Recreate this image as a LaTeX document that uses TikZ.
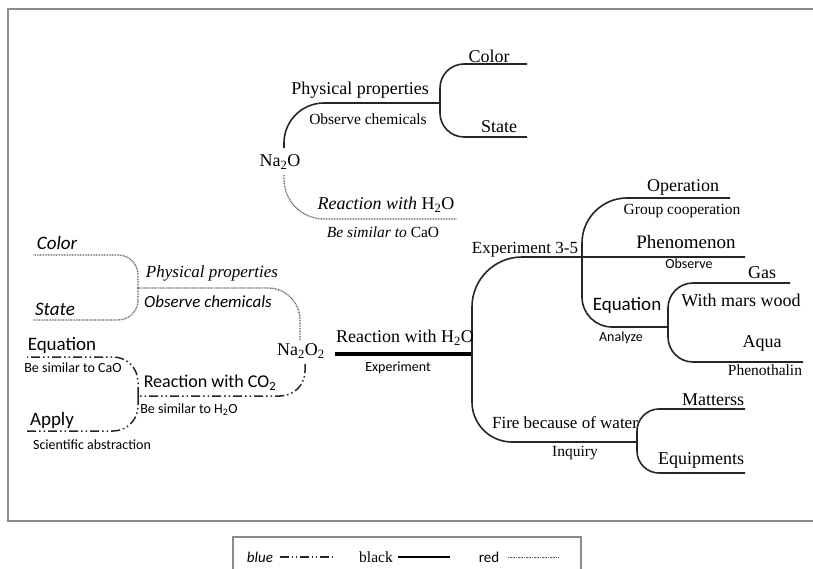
\documentclass[tikz,border=0pt]{standalone}
\usepackage{fontspec}
\setmainfont{Liberation Serif}
\setsansfont{Carlito}
\begin{document}
\begin{tikzpicture}[x=1pt,y=-1pt,
  ser/.style={font=\fontsize{18}{20}\selectfont, inner sep=0pt},
  sers/.style={font=\fontsize{15.5}{17}\selectfont, inner sep=0pt},
  san/.style={font=\sffamily\fontsize{19}{21}\selectfont, inner sep=0pt},
  sans/.style={font=\sffamily\fontsize{14}{16}\selectfont, inner sep=0pt},
  blk/.style={line width=1.6pt, draw=black!85},
  thk/.style={line width=3.2pt, draw=black},
  dotl/.style={line width=1.3pt, draw=black!65, dash pattern=on 0.8pt off 0.8pt},
  blu/.style={line width=1.5pt, draw=black!85, dash pattern=on 9pt off 3pt on 1.5pt off 3pt on 1.5pt off 3pt},
  frame/.style={draw=black!45, line width=2pt}]
\useasboundingbox (0,0) rectangle (813,569);
\fill[white] (0,0) rectangle (813,569);
% frame (open on the right, as it runs past the picture edge)
\coordinate (fTR) at (813,9);
\coordinate (fTL) at (8,9);
\coordinate (fBL) at (8,521);
\coordinate (fBR) at (813,521);
\draw[frame] (fTR) -- (fTL) -- (fBL) -- (fBR);
% legend box (open at the bottom)
\coordinate (lgBL) at (233,569);
\coordinate (lgTL) at (233,537);
\coordinate (lgTR) at (581,537);
\coordinate (lgBR) at (581,569);
\draw[frame] (lgBL) -- (lgTL) -- (lgTR) -- (lgBR);

% ---------------- top tree (Na2O) ----------------
\node[ser] (na2o) at (280,162) {Na\textsubscript{2}O};
\coordinate (na2oT) at (284,148);
\coordinate (na2oB) at (284,175);
\coordinate (j1) at (440,103);
\coordinate (colE) at (527,64);
\coordinate (staE) at (527,137);
\coordinate (rwE) at (457,219);
\draw[blk, rounded corners=40pt] (na2oT) |- (j1);
\draw[blk, rounded corners=24pt] (j1) |- (colE);
\draw[blk, rounded corners=24pt] (j1) |- (staE);
\draw[dotl, rounded corners=40pt] (na2oB) |- (rwE);
\node[ser] (pp1) at (360,90) {Physical properties};
\node[sers] (oc1) at (368,119) {Observe chemicals};
\node[ser] (col1) at (489,56) {Color};
\node[ser] (sta1) at (499,127) {State};
\node[ser] (rw1) at (386,205) {\textit{Reaction with} H\textsubscript{2}O};
\node[sers] (bs1) at (383,232) {\textit{Be similar to} CaO};

% ---------------- Na2O2 ----------------
\node[ser] (na2o2) at (301,351) {Na\textsubscript{2}O\textsubscript{2}};

% left dotted tree
\coordinate (n2T) at (300,340);
\coordinate (jP) at (138,288);
\coordinate (lcolE) at (33,255);
\coordinate (lstaE) at (33,320);
\draw[dotl, rounded corners=32pt] (n2T) |- (jP);
\draw[dotl, rounded corners=20pt] (jP) |- (lcolE);
\draw[dotl, rounded corners=20pt] (jP) |- (lstaE);
\node[san, font=\sffamily\itshape\fontsize{19}{21}\selectfont] (lcol) at (57,243) {Color};
\node[san, font=\sffamily\itshape\fontsize{19}{21}\selectfont] (lsta) at (55,309) {State};
\node[ser, font=\itshape\fontsize{17}{19}\selectfont] (pp2) at (212,273) {Physical properties};
\node[san, font=\sffamily\itshape\fontsize{17}{19}\selectfont] (oc2) at (208,302) {Observe chemicals};

% left blue tree
\coordinate (n2B) at (305,364);
\coordinate (jC) at (138,396);
\coordinate (eqE) at (27,357);
\coordinate (apE) at (27,431);
\draw[blu, rounded corners=25pt] (n2B) |- (jC);
\draw[blu, rounded corners=25pt] (jC) |- (eqE);
\draw[blu, rounded corners=25pt] (jC) |- (apE);
\node[san] (leq) at (62,345) {Equation};
\node[sans] (lbs) at (73,368) {Be similar to CaO};
\node[san, font=\sffamily\fontsize{18}{20}\selectfont] (rco2) at (210,383) {Reaction with CO\textsubscript{2}};
\node[sans] (bsh) at (189,410) {Be similar to H\textsubscript{2}O};
\node[san] (apl) at (52,420) {Apply};
\node[sans] (sci) at (92,445) {Scientific abstraction};

% right black tree
\coordinate (n2R) at (335,354);
\coordinate (jR) at (472,354);
\coordinate (jE) at (582,257);
\coordinate (phE) at (745,257);
\coordinate (opE) at (730,198);
\coordinate (jEq) at (668,327);
\coordinate (gasE) at (790,283);
\coordinate (aqE) at (803,362);
\coordinate (jF) at (637,442);
\coordinate (maE) at (745,409);
\coordinate (eqpE) at (745,473);
\draw[thk] (n2R) -- (jR);
\draw[blk, rounded corners=50pt] (jR) |- (phE);
\draw[blk, rounded corners=40pt] (jR) |- (jF);
\draw[blk, rounded corners=45pt] (jE) |- (opE);
\draw[blk, rounded corners=30pt] (jE) |- (jEq);
\draw[blk, rounded corners=25pt] (jEq) |- (gasE);
\draw[blk, rounded corners=25pt] (jEq) |- (aqE);
\draw[blk, rounded corners=22pt] (jF) |- (maE);
\draw[blk, rounded corners=22pt] (jF) |- (eqpE);

\node[ser] (rwh) at (405,338) {Reaction with H\textsubscript{2}O};
\node[sans] (exp) at (398,368) {Experiment};
\node[ser, font=\fontsize{17}{19}\selectfont] (exp35) at (525,250) {Experiment 3-5};
\node[ser] (op) at (683,187) {Operation};
\node[sers] (gc) at (682,211) {Group cooperation};
\node[ser, font=\fontsize{19}{21}\selectfont] (ph) at (686,242) {Phenomenon};
\node[sans] (obs) at (689,264) {Observe};
\node[san] (req) at (627,305) {Equation};
\node[sans] (ana) at (621,338) {Analyze};
\node[ser] (gas) at (762,273) {Gas};
\node[ser] (wmw) at (741,300) {With mars wood};
\node[ser] (aq) at (762,343) {Aqua};
\node[sers] (phe) at (765,370) {Phenothalin};
\node[ser, font=\fontsize{17}{19}\selectfont] (fire) at (565,423) {Fire because of water};
\node[sers] (inq) at (575,453) {Inquiry};
\node[ser] (mat) at (713,400) {Matterss};
\node[ser] (equ) at (701,460) {Equipments};

% ---------------- legend ----------------
\node[sans, font=\sffamily\itshape\fontsize{15}{17}\selectfont] (lgblue) at (260,557) {blue};
\coordinate (lb1) at (280,557);
\coordinate (lb2) at (334,557);
\draw[blu, line width=1.2pt, dash pattern=on 9pt off 3pt on 1.2pt off 2.5pt on 1.2pt off 3pt] (lb1) -- (lb2);
\node[sers] (lgblack) at (376,557) {black};
\coordinate (lk1) at (398,557);
\coordinate (lk2) at (450,557);
\draw[line width=1.2pt] (lk1) -- (lk2);
\node[sans, font=\sffamily\fontsize{15}{17}\selectfont] (lgred) at (489,557) {red};
\coordinate (lr1) at (508,557);
\coordinate (lr2) at (558,557);
\draw[dotl, line width=1pt] (lr1) -- (lr2);
\end{tikzpicture}
\end{document}
